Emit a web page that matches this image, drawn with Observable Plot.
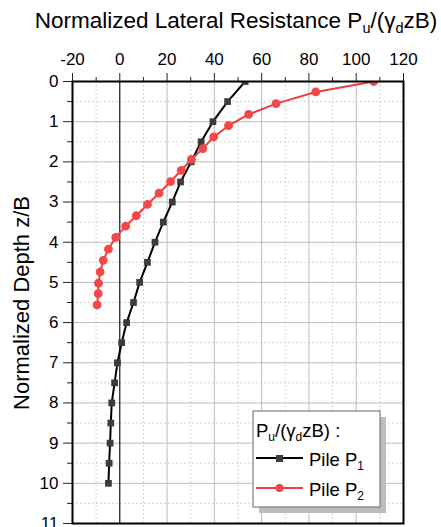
<!DOCTYPE html>
<html><head><meta charset="utf-8">
<script src="https://cdn.jsdelivr.net/npm/d3@7"></script>
<script src="https://cdn.jsdelivr.net/npm/@observablehq/plot@0.6"></script>
<style>
body{margin:0;background:#fff}
svg{font-family:"Liberation Sans",Arial,sans-serif}
</style>
</head><body><div id="chart"></div>
<script>
// Pile P1 (black squares)
const p1Depth = [0,0.5,1,1.5,2,2.5,3,3.5,4,4.5,5,5.5,6,6.5,7,7.5,8,8.5,9,9.5,10];
const p1Value = [53,45.6,39.4,34.4,30.2,25.7,22.2,18.4,14.9,11.7,8.4,5.8,2.9,0.8,-1.0,-2.2,-3.4,-3.8,-4.1,-4.5,-4.8];
// Pile P2 (red circles)
const p2Depth = [0,0.26,0.55,0.82,1.1,1.38,1.67,1.94,2.21,2.49,2.78,3.06,3.34,3.6,3.88,4.17,4.45,4.74,5.02,5.28,5.56];
const p2Value = [107.4,82.9,66.1,54.5,46.0,39.7,35.1,30.3,26.0,21.5,16.6,11.7,7.0,2.5,-1.7,-4.8,-7.0,-8.3,-9.0,-9.1,-9.6];
// ticks
const xTicks = [-20,0,20,40,60,80,100,120];
const xMinor = [-10,10,30,50,70,90,110];
const yTicks = [0,1,2,3,4,5,6,7,8,9,10,11];
const yMinor = [0.5,1.5,2.5,3.5,4.5,5.5,6.5,7.5,8.5,9.5,10.5];

const p1 = p1Depth.map((z,i)=>({z, v:p1Value[i]}));
const p2 = p2Depth.map((z,i)=>({z, v:p2Value[i]}));

const black = "#000000", sq = "#3c3c3c", red = "#f03c3c", redDot = "#f24848";

const chart = Plot.plot({
  width: 441, height: 527,
  marginTop: 81, marginLeft: 72, marginRight: 38, marginBottom: 4,
  style: {fontFamily: "Liberation Sans, Arial, sans-serif", background: "#fff", overflow: "visible"},
  x: {domain: [-20,120], axis: null},
  y: {domain: [0,11], reverse: true, axis: null},
  marks: [
    Plot.ruleX(xMinor, {stroke:"#d4d4d4", strokeDasharray:"2,2", strokeWidth:1}),
    Plot.ruleY(yMinor, {stroke:"#d4d4d4", strokeDasharray:"2,2", strokeWidth:1}),
    Plot.ruleX(xTicks.slice(1,-1), {stroke:"#bcbcbc", strokeWidth:1}),
    Plot.ruleY(yTicks.slice(1,-1), {stroke:"#bcbcbc", strokeWidth:1}),
    Plot.ruleX([0], {stroke:"#000", strokeWidth:1}),
    Plot.line(p1, {x:"v", y:"z", stroke:black, strokeWidth:2, clip:true}),
    Plot.dot(p1, {x:"v", y:"z", symbol:"square", fill:sq, stroke:"none", r:3.8, clip:true}),
    Plot.line(p2, {x:"v", y:"z", stroke:red, strokeWidth:2, clip:true}),
    Plot.dot(p2, {x:"v", y:"z", fill:redDot, stroke:"none", r:4.4, clip:true}),
    Plot.axisX({anchor:"top", ticks:xTicks, tickSize:9, tickPadding:8, fontSize:17, tickFormat:d=>String(d), label:null, stroke:"#222"}),
    Plot.axisX({anchor:"top", ticks:xMinor, tickSize:5, text:null, label:null, stroke:"#222"}),
    Plot.axisY({anchor:"left", ticks:yTicks, tickSize:9, tickPadding:5, fontSize:17, label:null, stroke:"#222"}),
    Plot.axisY({anchor:"left", ticks:yMinor, tickSize:5, text:null, label:null, stroke:"#222"}),
    Plot.frame({stroke:"#000", strokeWidth:2})
  ]
});
document.getElementById("chart").appendChild(chart);

const svg = d3.select(chart);
// Title
const t = svg.append("text").attr("x", 236).attr("y", 28).attr("text-anchor","middle")
  .attr("font-size", 22.5).attr("fill","#000");
t.append("tspan").text("Normalized Lateral Resistance P");
t.append("tspan").attr("font-size",14.5).attr("dy",5).text("u");
t.append("tspan").attr("dy",-5).text("/(γ");
t.append("tspan").attr("font-size",14.5).attr("dy",5).text("d");
t.append("tspan").attr("dy",-5).text("zB)");

// Y label
svg.append("text").attr("transform","translate(29,303) rotate(-90)").attr("text-anchor","middle")
  .attr("font-size",22).attr("fill","#000").text("Normalized Depth z/B");

// Legend
const lg = svg.append("g").attr("text-anchor","start");
lg.append("rect").attr("x",259).attr("y",417).attr("width",127).attr("height",96).attr("fill","#bdbdbd");
lg.append("rect").attr("x",253).attr("y",411).attr("width",127).attr("height",96).attr("fill","#fff").attr("stroke","#666").attr("stroke-width",1);
const l1 = lg.append("text").attr("x",256).attr("y",437).attr("font-size",18.5).attr("fill","#000");
l1.append("tspan").text("P");
l1.append("tspan").attr("font-size",12).attr("dy",4).text("u");
l1.append("tspan").attr("dy",-4).text("/(γ");
l1.append("tspan").attr("font-size",12).attr("dy",4).text("d");
l1.append("tspan").attr("dy",-4).text("zB) :");
lg.append("line").attr("x1",256).attr("x2",303).attr("y1",458).attr("y2",458).attr("stroke",black).attr("stroke-width",2);
lg.append("rect").attr("x",276).attr("y",455).attr("width",7).attr("height",7).attr("fill",sq);
const l2 = lg.append("text").attr("x",309).attr("y",466).attr("font-size",18.5).attr("fill","#000");
l2.append("tspan").text("Pile P");
l2.append("tspan").attr("font-size",12).attr("dy",4).text("1");
lg.append("line").attr("x1",256).attr("x2",303).attr("y1",488).attr("y2",488).attr("stroke",red).attr("stroke-width",2);
lg.append("circle").attr("cx",279.5).attr("cy",488).attr("r",4).attr("fill",redDot);
const l3 = lg.append("text").attr("x",309).attr("y",496).attr("font-size",18.5).attr("fill","#000");
l3.append("tspan").text("Pile P");
l3.append("tspan").attr("font-size",12).attr("dy",4).text("2");
</script>
</body></html>
